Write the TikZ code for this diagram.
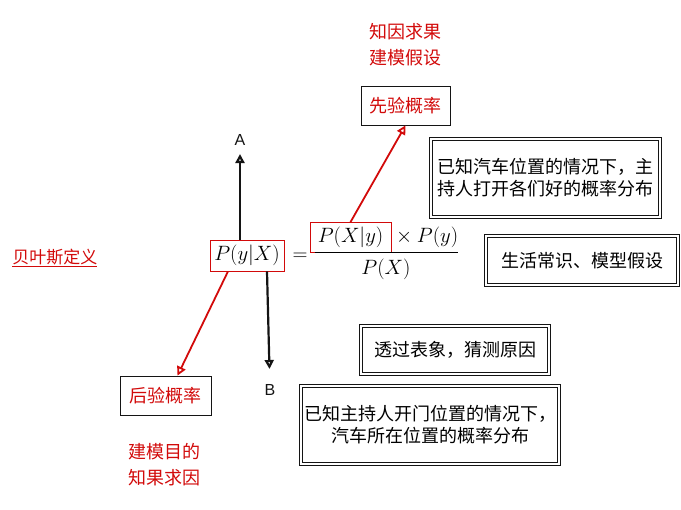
\documentclass[tikz,border=0pt]{standalone}
\usepackage{fontspec}
\setmainfont{Noto Sans CJK SC}
\newfontfamily\latin{Liberation Sans}
\usetikzlibrary{positioning,arrows.meta}
\definecolor{Crimson}{RGB}{210,10,10}
\definecolor{Ink}{RGB}{20,20,20}

\begin{document}
\begin{tikzpicture}[x=1pt,y=-1pt,node distance=1pt,
 t/.style={font=\fontsize{18}{26}\selectfont,align=center,text=Crimson},
 b/.style={draw=Ink,line width=.8pt,inner sep=0pt,font=\fontsize{18}{22}\selectfont,align=center,fill=white},
 rim/.style={draw=Ink,line width=.8pt},
 m/.style={inner sep=0pt,font=\fontsize{21}{25}\selectfont},
 mb/.style={m,draw=Crimson,line width=.8pt},
 l/.style={font=\latin\fontsize{16}{18}\selectfont,text=Ink},
 ra/.style={-{Triangle[open,length=9pt,width=9pt]},line width=1.8pt,Crimson},
 ka/.style={-{Triangle[open,length=9pt,width=9pt]},line width=2.2pt,Ink}]
\useasboundingbox (0,0) rectangle (681,510);
\node[t] (goal1) at (405,45) {知因求果\\建模假设};
\node[b,text=Crimson,minimum width=89pt,minimum height=39pt] (prior) at (405.5,105.5) {先验概率};
\node[b,minimum width=226pt,minimum height=75pt] (car) at (545.5,178) {已知汽车位置的情况下，主\\持人打开各们好的概率分布};
\node[b,minimum width=189pt,minimum height=46pt] (life) at (582,260.5) {生活常识、模型假设};
\node[t,font=\fontsize{17}{20}\selectfont] (def) at (55,258) {\underline{贝叶斯定义}};
\node[mb,minimum width=74pt,minimum height=31pt] (pyx) at (247,255.5) {$P(y|X)$};
\node[m] (eq) at (300,257) {$=$};
\node[mb,minimum width=81pt,minimum height=30pt] (pxy) at (350.5,237.5) {$P(X|y)$};
\node[m,right=0pt of pxy] (py) {${}\times P(y)$};
\node[m] (px) at (386,269) {$P(X)$};
\draw[line width=.8pt] ([xshift=5pt]pxy.south west) -- (py.east |- pxy.south);
\node[l] (A) at (240,140) {A};
\node[l] (B) at (270,390) {B};
\node[b,minimum width=185pt,minimum height=45pt] (see) at (455,350) {透过表象，猜测原因};
\node[b,minimum width=255pt,minimum height=75pt] (host) at (430,425) {已知主持人开门位置的情况下，\\汽车所在位置的概率分布};
\node[b,text=Crimson,minimum width=91pt,minimum height=39pt] (post) at (165.5,395.5) {后验概率};
\node[t] (goal2) at (164,465) {建模目的\\知果求因};
\foreach \n in {car,life,see,host}
  \draw[rim] ([shift={(-2.5pt,2.5pt)}]\n.north west) rectangle ([shift={(2.5pt,-2.5pt)}]\n.south east);
\draw[ka,shorten >=5pt] ([xshift=-7pt]pyx.north) -- (A);
\draw[ka,shorten >=12pt] ([xshift=20pt]pyx.south) -- (B);
\draw[ra] ([xshift=-19pt]pyx.south) -- ([xshift=12pt]post.north);
\draw[ra] (pxy.north) -- (prior.south);
\end{tikzpicture}
\end{document}
